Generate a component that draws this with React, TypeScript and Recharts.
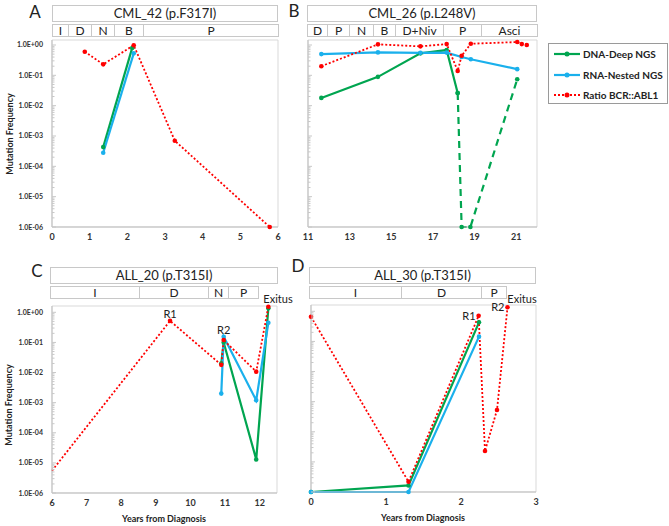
import React from "react";
import { LineChart, Line, XAxis, YAxis, ReferenceArea, ReferenceDot } from "recharts";

const FONT = "Lato, 'Liberation Sans', sans-serif";
const GREEN = "#00a550";
const BLUE = "#1ab0ec";
const RED = "#ff0000";

type Pt = { x: number; y: number };

// Panel A – CML_42 (p.F317I)
const aDna: Pt[] = [{ x: 1.36, y: 4.3e-4 }, { x: 2.13, y: 0.8 }];
const aRna: Pt[] = [{ x: 1.36, y: 2.8e-4 }, { x: 2.17, y: 0.53 }];
const aRatio: Pt[] = [
  { x: 0.87, y: 0.6 }, { x: 1.36, y: 0.23 }, { x: 2.17, y: 0.98 },
  { x: 3.26, y: 7e-4 }, { x: 5.78, y: 1e-6 },
];

// Panel B – CML_26 (p.L248V)
const bDna: Pt[] = [
  { x: 11.64, y: 0.018 }, { x: 14.36, y: 0.089 }, { x: 16.4, y: 0.53 },
  { x: 17.66, y: 0.68 }, { x: 18.19, y: 0.026 },
];
const bDnaDashed: Pt[] = [
  { x: 18.19, y: 0.026 }, { x: 18.38, y: 1e-6 }, { x: 18.8, y: 1e-6 }, { x: 21.05, y: 0.074 },
];
const bRna: Pt[] = [
  { x: 11.64, y: 0.5 }, { x: 14.36, y: 0.57 }, { x: 16.4, y: 0.55 }, { x: 17.66, y: 0.56 },
  { x: 18.38, y: 0.4 }, { x: 18.82, y: 0.34 }, { x: 21.05, y: 0.16 },
];
const bRatio: Pt[] = [
  { x: 11.64, y: 0.2 }, { x: 14.36, y: 1.05 }, { x: 16.4, y: 0.9 }, { x: 17.66, y: 1.07 },
  { x: 18.19, y: 0.14 }, { x: 18.38, y: 0.44 }, { x: 18.82, y: 1.1 }, { x: 21.05, y: 1.25 },
  { x: 21.27, y: 1.07 }, { x: 21.51, y: 1.0 },
];

// Panel C – ALL_20 (p.T315I)
const cDna: Pt[] = [
  { x: 10.89, y: 0.02 }, { x: 10.96, y: 0.1 }, { x: 11.9, y: 1.3e-5 }, { x: 12.25, y: 1.36 },
];
const cRna: Pt[] = [
  { x: 10.89, y: 2e-3 }, { x: 10.96, y: 0.155 }, { x: 11.9, y: 1.2e-3 }, { x: 12.25, y: 0.45 },
];
const cRatio: Pt[] = [
  { x: 6, y: 5.5e-6 }, { x: 9.41, y: 0.52 }, { x: 10.89, y: 0.018 }, { x: 10.96, y: 0.12 },
  { x: 11.9, y: 0.0107 }, { x: 12.25, y: 1.53 },
];

// Panel D – ALL_30 (p.T315I)
const dDna: Pt[] = [{ x: 0, y: 1e-6 }, { x: 1.3, y: 1.65e-6 }, { x: 2.24, y: 0.43 }];
const dRna: Pt[] = [{ x: 0, y: 1e-6 }, { x: 1.3, y: 1e-6 }, { x: 2.24, y: 0.144 }];
const dRatio: Pt[] = [
  { x: 0, y: 0.66 }, { x: 1.3, y: 2.2e-6 }, { x: 2.235, y: 0.71 }, { x: 2.32, y: 2.3e-5 },
  { x: 2.48, y: 5.3e-4 }, { x: 2.62, y: 1.36 },
];

const yMajor = [1e-6, 1e-5, 1e-4, 1e-3, 1e-2, 1e-1, 1];
const yMinor = yMajor.slice(0, -1).flatMap((p) => [2, 3, 4, 5, 6, 7, 8, 9].map((m) => m * p));
const yTicks = [...yMajor, ...yMinor];

const aXTicks = [0, 1, 2, 3, 4, 5, 6];
const bXTicks = [11, 13, 15, 17, 19, 21];
const cXTicks = [6, 7, 8, 9, 10, 11, 12];
const dXTicks = [0, 1, 2, 3];

const legendItems = [
  { name: "DNA-Deep NGS", color: GREEN, dash: undefined },
  { name: "RNA-Nested NGS", color: BLUE, dash: undefined },
  { name: "Ratio BCR::ABL1", color: RED, dash: "2 2" },
];

function fmtExp(v: number) {
  const k = Math.round(Math.log10(v));
  return `1.0E${k >= 0 ? "+" : "-"}${String(Math.abs(k)).padStart(2, "0")}`;
}

function isMajor(v: number) {
  return yMajor.some((m) => Math.abs(m - v) / m < 1e-6);
}

type Series = { data: Pt[]; color: string; dash?: string; hideFirstDot?: boolean };

function Panel(props: {
  left: number; top: number; width: number; height: number;
  plot: { l: number; t: number; r: number; b: number };
  xDomain: [number, number]; xTicks: number[]; yMax: number;
  series: Series[]; yLabels: boolean;
  marks?: { x: number; y: number; text: string; pos: "top" | "left" }[];
}) {
  const { left, top, width, height, plot, xDomain, xTicks, yMax, series, yLabels, marks = [] } = props;

  const yTick = (p: any) => {
    const major = isMajor(p.payload.value);
    return (
      <g>
        <line x1={p.x} x2={p.x + (major ? 4 : 2.5)} y1={p.y} y2={p.y} stroke="#c8c8c8" strokeWidth={1} />
        {yLabels && major && (
          <text x={p.x - 9} y={p.y} dy={2.5} textAnchor="end" fontSize={7} fontWeight={700}
            fontFamily={FONT} fill="#333">
            {fmtExp(p.payload.value)}
          </text>
        )}
      </g>
    );
  };

  return (
    <div style={{ position: "absolute", left, top }}>
      <LineChart width={width} height={height}
        margin={{ top: plot.t, right: width - plot.r, bottom: 0, left: 0 }}>
        <XAxis type="number" dataKey="x" domain={xDomain} ticks={xTicks} interval={0}
          axisLine={{ stroke: "#bfbfbf" }} tickLine={false} tickSize={0}
          tickMargin={7} height={height - plot.b}
          tick={{ fontSize: 9, fontWeight: 700, fill: "#333", fontFamily: FONT }} />
        <YAxis type="number" scale="log" domain={[1e-6, yMax]} ticks={yTicks} interval={0}
          width={plot.l} axisLine={{ stroke: "#bfbfbf" }} tickLine={false}
          tickSize={0} tickMargin={0} tick={yTick} />
        <ReferenceArea x1={xDomain[0]} x2={xDomain[1]} y1={1e-6} y2={yMax}
          fill="none" stroke="#d9d9d9" ifOverflow="visible" />
        {series.map((s, i) => (
          <Line key={i} data={s.data} dataKey="y" type="linear" stroke={s.color}
            strokeWidth={s.color === RED ? 1.8 : 2.2}
            strokeDasharray={s.dash}
            dot={(d: any) =>
              s.hideFirstDot && d.index === 0 ? (
                <g key={d.key} />
              ) : (
                <circle key={d.key} cx={d.cx} cy={d.cy} r={2.3} fill={s.color} stroke="none" />
              )
            }
            isAnimationActive={false} />
        ))}
        {marks.map((m, i) => (
          <ReferenceDot key={i} x={m.x} y={m.y} r={0} fill="none" stroke="none" ifOverflow="visible"
            label={{ value: m.text, position: m.pos, offset: 3, fontSize: 11, fill: "#222", fontFamily: FONT }} />
        ))}
      </LineChart>
    </div>
  );
}

function Box({ x, y, w, h, text, size }: { x: number; y: number; w: number; h: number; text: string; size: number }) {
  return (
    <div style={{
      position: "absolute", left: x, top: y, width: w, height: h, boxSizing: "border-box",
      border: "1px solid #c8c8c8", background: "#fff", display: "flex", alignItems: "center",
      justifyContent: "center", fontSize: size, color: "#222", fontFamily: FONT, lineHeight: 1,
    }}>{text}</div>
  );
}

function Header({ title, phases, edges, x0, x1, y }: {
  title: string; phases: string[]; edges: number[]; x0: number; x1: number; y: number;
}) {
  return (
    <>
      <Box x={x0} y={y} w={x1 - x0} h={17} text={title} size={13} />
      {phases.map((p, i) => (
        <Box key={i} x={edges[i]} y={y + 19} w={edges[i + 1] - edges[i] + 1} h={13} text={p} size={12} />
      ))}
    </>
  );
}

function Txt({ x, y, text, size, bold, rotate }: {
  x: number; y: number; text: string; size: number; bold?: boolean; rotate?: boolean;
}) {
  return (
    <div style={{
      position: "absolute", left: x, top: y, transform: `translate(-50%, -50%)${rotate ? " rotate(-90deg)" : ""}`,
      fontSize: size, fontWeight: bold ? 700 : 400, fontFamily: FONT, color: "#222", whiteSpace: "nowrap",
    }}>{text}</div>
  );
}

function Legend() {
  return (
    <div style={{
      position: "absolute", left: 548, top: 43, width: 120, height: 61, boxSizing: "border-box",
      border: "1px solid #9a9a9a", background: "#fff",
    }}>
      {legendItems.map((it, i) => (
        <div key={i} style={{ position: "absolute", left: 4, top: 3 + i * 20.5, height: 14, display: "flex", alignItems: "center", whiteSpace: "nowrap" }}>
          <svg width={28} height={10}>
            <line x1={1} x2={27} y1={5} y2={5} stroke={it.color} strokeWidth={2.2} strokeDasharray={it.dash} />
            <circle cx={14} cy={5} r={2.5} fill={it.color} />
          </svg>
          <span style={{ fontSize: 10, fontWeight: 700, fontFamily: FONT, color: "#222", marginLeft: 2 }}>{it.name}</span>
        </div>
      ))}
    </div>
  );
}

export default function App() {
  return (
    <div style={{ position: "absolute", left: 0, top: 0, width: 669, height: 526, overflow: "hidden", background: "#fff" }}>
      <Panel left={0} top={0} width={290} height={255} plot={{ l: 52, t: 40, r: 278, b: 227 }}
        xDomain={[0, 6]} xTicks={aXTicks} yMax={1.46} yLabels
        series={[
          { data: aDna, color: GREEN },
          { data: aRna, color: BLUE },
          { data: aRatio, color: RED, dash: "2 2" },
        ]} />
      <Panel left={270} top={0} width={280} height={255} plot={{ l: 38, t: 40, r: 267, b: 227 }}
        xDomain={[11, 22]} xTicks={bXTicks} yMax={1.46} yLabels={false}
        series={[
          { data: bDna, color: GREEN },
          { data: bDnaDashed, color: GREEN, dash: "7 5" },
          { data: bRna, color: BLUE },
          { data: bRatio, color: RED, dash: "2 2" },
        ]} />
      <Panel left={0} top={260} width={290} height={266} plot={{ l: 52, t: 46, r: 277, b: 233 }}
        xDomain={[6, 12.5]} xTicks={cXTicks} yMax={1.62} yLabels
        series={[
          { data: cDna, color: GREEN },
          { data: cRna, color: BLUE },
          { data: cRatio, color: RED, dash: "2 2", hideFirstDot: true },
        ]}
        marks={[
          { x: 9.41, y: 0.52, text: "R1", pos: "top" },
          { x: 10.96, y: 0.155, text: "R2", pos: "top" },
        ]} />
      <Panel left={280} top={260} width={280} height={266} plot={{ l: 31, t: 45, r: 256, b: 232 }}
        xDomain={[0, 3]} xTicks={dXTicks} yMax={1.62} yLabels={false}
        series={[
          { data: dDna, color: GREEN },
          { data: dRna, color: BLUE },
          { data: dRatio, color: RED, dash: "2 2" },
        ]}
        marks={[
          { x: 2.235, y: 0.71, text: "R1", pos: "left" },
          { x: 2.62, y: 1.36, text: "R2", pos: "left" },
        ]} />

      <Header title="CML_42 (p.F317I)" phases={["I", "D", "N", "B", "P"]}
        edges={[52, 68, 91, 114, 143, 278]} x0={52} x1={278} y={5} />
      <Header title="CML_26 (p.L248V)" phases={["D", "P", "N", "B", "D+Niv", "P", "Asci"]}
        edges={[307, 327, 349, 373, 395, 443, 481, 537]} x0={307} x1={537} y={5} />
      <Header title="ALL_20 (p.T315I)" phases={["I", "D", "N", "P"]}
        edges={[50, 139, 208, 228, 258]} x0={50} x1={278} y={267} />
      <Header title="ALL_30 (p.T315I)" phases={["I", "D", "P"]}
        edges={[309, 401, 481, 506]} x0={309} x1={536} y={267} />

      <Txt x={35} y={11} text="A" size={17} />
      <Txt x={294} y={10} text="B" size={17} />
      <Txt x={37} y={270} text="C" size={17} />
      <Txt x={298} y={265} text="D" size={17} />

      <Txt x={278} y={298} text="Exitus" size={11} />
      <Txt x={522} y={298} text="Exitus" size={11} />

      <Txt x={9} y={134} text="Mutation Frequency" size={9} bold rotate />
      <Txt x={8} y={405} text="Mutation Frequency" size={9} bold rotate />
      <Txt x={164} y={518} text="Years from Diagnosis" size={9} bold />
      <Txt x={423} y={517} text="Years from Diagnosis" size={9} bold />

      <Legend />
    </div>
  );
}
